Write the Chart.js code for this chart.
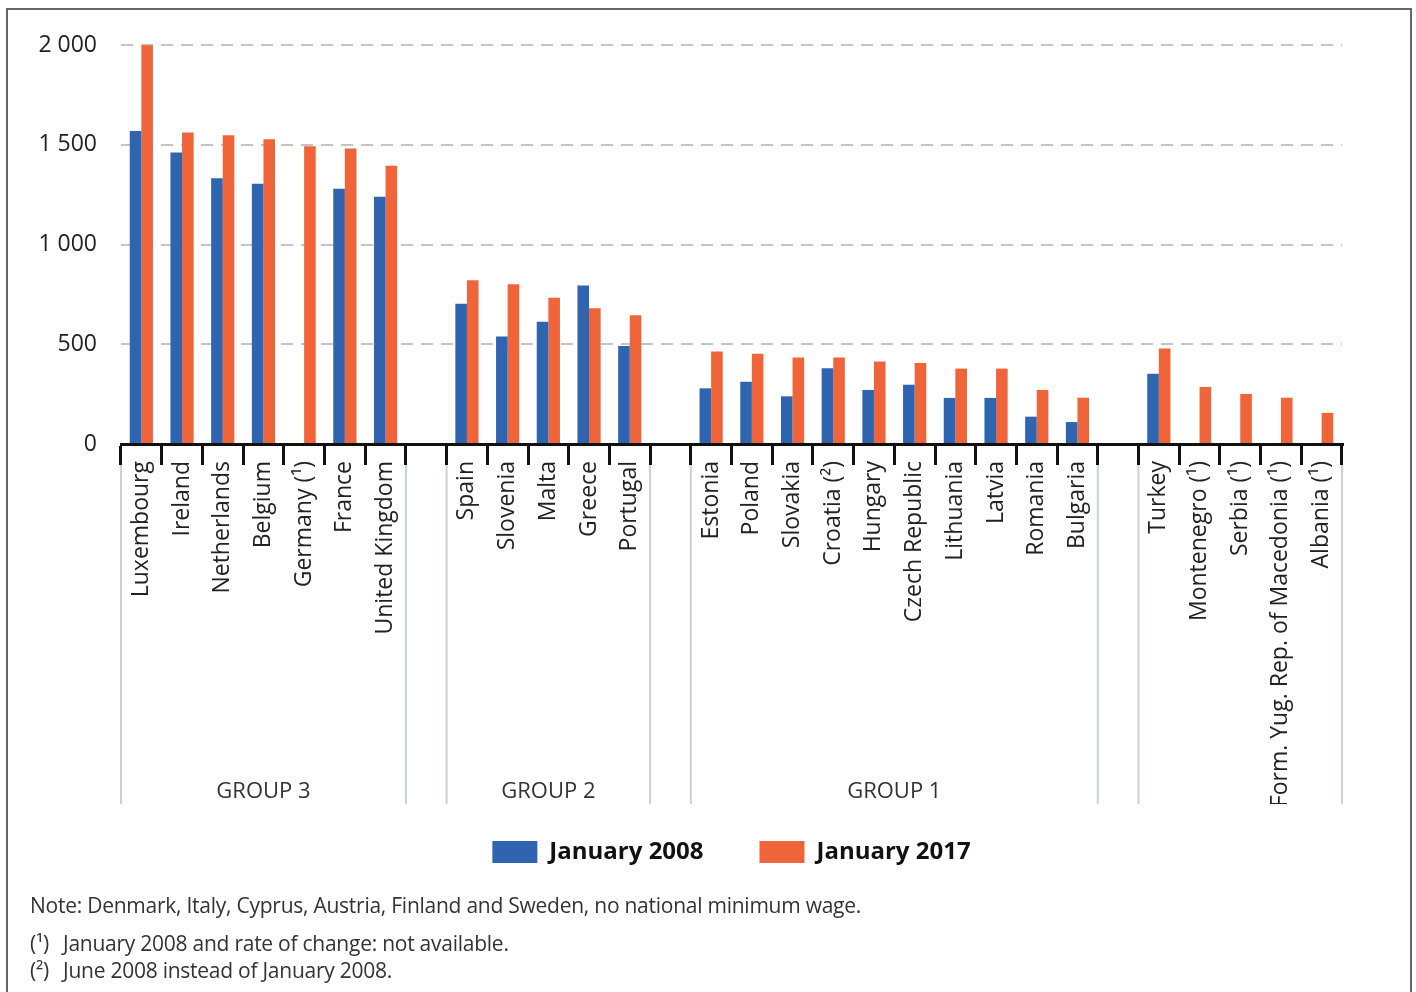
<!DOCTYPE html>
<html>
<head>
<meta charset="utf-8">
<script src="https://cdn.jsdelivr.net/npm/chart.js@4.4.0/dist/chart.umd.min.js"></script>
<style>
  body { margin: 0; background: #fff; width: 1416px; height: 992px; overflow: hidden; position: relative; font-family: 'Open Sans', sans-serif; }
  #frame { position: absolute; left: 6px; top: 8px; width: 1402px; height: 1000px; border: 2px solid #666; pointer-events: none; }
  #wrap { position: absolute; left: 0; top: 0; width: 1416px; height: 874px; }
  .note { position: absolute; font-size: 21px; line-height: 24px; color: #333; white-space: nowrap; letter-spacing: -0.25px; }
</style>
</head>
<body>
<div id="wrap"><canvas id="myChart"></canvas></div>
<div id="frame"></div>
<div class="note" style="left:30px; top:893px;">Note: Denmark, Italy, Cyprus, Austria, Finland and Sweden, no national minimum wage.</div>
<div class="note" style="left:30px; top:931px;">(¹)</div>
<div class="note" style="left:63px; top:931px;">January 2008 and rate of change: not available.</div>
<div class="note" style="left:30px; top:958px;">(²)</div>
<div class="note" style="left:63px; top:958px;">June 2008 instead of January 2008.</div>
<script>
// empty labels are the gaps between groups
var categories = ['Luxembourg', 'Ireland', 'Netherlands', 'Belgium', 'Germany (¹)', 'France', 'United Kingdom', '',
    'Spain', 'Slovenia', 'Malta', 'Greece', 'Portugal', '',
    'Estonia', 'Poland', 'Slovakia', 'Croatia (²)', 'Hungary', 'Czech Republic', 'Lithuania', 'Latvia', 'Romania', 'Bulgaria', '',
    'Turkey', 'Montenegro (¹)', 'Serbia (¹)', 'Form. Yug. Rep. of Macedonia (¹)', 'Albania (¹)'];
var jan2008 = [1569, 1461, 1332, 1305, null, 1279, 1239, null,
    703, 539, 613, 794, 491, null,
    279, 312, 239, 380, 271, 297, 231, 231, 137, 110, null,
    352, null, null, null, null];
var jan2017 = [1999, 1561, 1547, 1527, 1493, 1481, 1395, null,
    821, 801, 733, 680, 645, null,
    464, 453, 433, 433, 413, 406, 378, 378, 271, 232, null,
    479, 286, 251, 232, 156];
var groupNames = ['GROUP 3', 'GROUP 2', 'GROUP 1', ''];
var groupStart = [0, 8, 14, 25];
var groupEnd = [6, 12, 23, 29];
var yTicks = [0, 500, 1000, 1500, 2000];

var FONT = "'Open Sans', sans-serif";

function fmt(v) {
    if (v >= 1000) return Math.floor(v / 1000) + ' ' + String(v % 1000).padStart(3, '0');
    return String(v);
}

// group separators and GROUP labels under the axis
var groupPlugin = {
    id: 'groups',
    afterDraw: function(chart) {
        var ctx = chart.ctx;
        var x = chart.scales.x;
        var half = (x.getPixelForValue(1) - x.getPixelForValue(0)) / 2;
        var y0 = x.top + 21;
        var y1 = x.top + 360;
        ctx.save();
        ctx.strokeStyle = '#cdd1d5';
        ctx.lineWidth = 2;
        ctx.fillStyle = '#333';
        ctx.font = '22px ' + FONT;
        ctx.textAlign = 'center';
        ctx.textBaseline = 'middle';
        for (var i = 0; i < groupNames.length; i++) {
            var a = x.getPixelForValue(groupStart[i]) - half;
            var b = x.getPixelForValue(groupEnd[i]) + half;
            ctx.beginPath();
            ctx.moveTo(a, y0); ctx.lineTo(a, y1);
            ctx.moveTo(b, y0); ctx.lineTo(b, y1);
            ctx.stroke();
            if (groupNames[i]) ctx.fillText(groupNames[i], (a + b) / 2, x.top + 348);
        }
        ctx.restore();
    }
};

var ctx = document.getElementById('myChart').getContext('2d');
var chart = new Chart(ctx, {
    type: 'bar',
    data: {
        labels: categories,
        datasets: [{
            label: 'January 2008',
            data: jan2008,
            backgroundColor: '#2f65b0',
            categoryPercentage: 0.57,
            barPercentage: 1.0
        }, {
            label: 'January 2017',
            data: jan2017,
            backgroundColor: '#f0643a',
            categoryPercentage: 0.57,
            barPercentage: 1.0
        }]
    },
    options: {
        responsive: true,
        maintainAspectRatio: false,
        animation: false,
        layout: {
            padding: { left: 0, right: 74, top: 45, bottom: 0 }
        },
        scales: {
            x: {
                grid: {
                    display: true,
                    offset: true,
                    drawOnChartArea: false,
                    drawTicks: true,
                    tickLength: 21,
                    color: '#111',
                    lineWidth: 3
                },
                border: { display: true, color: '#111', width: 3 },
                ticks: {
                    autoSkip: false,
                    maxRotation: 90,
                    minRotation: 90,
                    padding: -4,
                    color: '#222',
                    font: { family: FONT, size: 23 }
                },
                afterFit: function(s) { s.height = 360; }
            },
            y: {
                min: 0,
                max: 2000,
                afterBuildTicks: function(s) { s.ticks = yTicks.map(function(v) { return { value: v }; }); },
                grid: { color: '#c4c4c4', lineWidth: 2, drawTicks: false },
                border: { display: false, dash: [12, 8] },
                ticks: {
                    padding: 24,
                    color: '#222',
                    font: { family: FONT, size: 23 },
                    callback: function(v) { return fmt(v); }
                },
                afterFit: function(s) { s.width = 121; }
            }
        },
        plugins: {
            legend: {
                position: 'bottom',
                fullSize: false,
                labels: {
                    boxWidth: 45,
                    boxHeight: 22,
                    padding: 36,
                    color: '#111',
                    font: { family: FONT, size: 24, weight: 'bold' },
                    generateLabels: function(c) {
                        var items = Chart.defaults.plugins.legend.labels.generateLabels(c);
                        // extra room after the first entry
                        items[0].text = items[0].text + '\u2002\u2009\u2009';
                        return items;
                    }
                }
            },
            tooltip: { enabled: false }
        }
    },
    plugins: [groupPlugin]
});
</script>
</body>
</html>
